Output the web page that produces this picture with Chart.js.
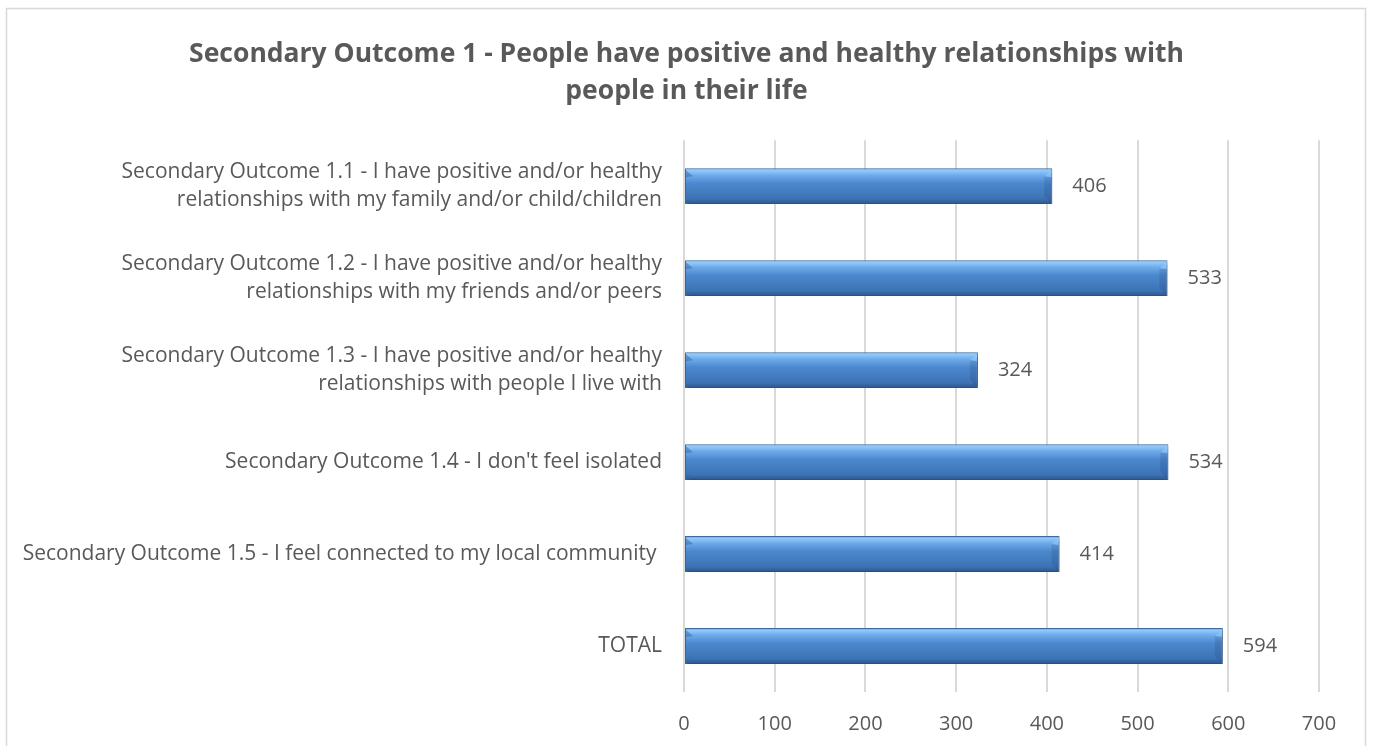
<!DOCTYPE html>
<html>
<head>
<meta charset="utf-8">
<script src="https://cdn.jsdelivr.net/npm/chart.js@4.4.1/dist/chart.umd.min.js"></script>
<style>
  html, body { margin: 0; padding: 0; background: #fff; }
  #wrap { width: 1373px; height: 746px; }
</style>
</head>
<body>
<div id="wrap"><canvas id="outcomeChart" width="1373" height="746"></canvas></div>
<script>
// Datos
const titleLines = [
    'Secondary Outcome 1 - People have positive and healthy relationships with',
    'people in their life'
];

const categories = [
    ['Secondary Outcome 1.1 - I have positive and/or healthy', 'relationships with my family and/or child/children'],
    ['Secondary Outcome 1.2 - I have positive and/or healthy', 'relationships with my friends and/or peers'],
    ['Secondary Outcome 1.3 - I have positive and/or healthy', 'relationships with people I live with'],
    'Secondary Outcome 1.4 - I don\'t feel isolated',
    'Secondary Outcome 1.5 - I feel connected to my local community ',
    'TOTAL'
];

const respuestas = [406, 533, 324, 534, 414, 594];

const xTicks = [0, 100, 200, 300, 400, 500, 600, 700];

const textColor = '#595959';
const gridColor = '#d9d9d9';
const fontFamily = '"Open Sans", Lato, sans-serif';
const labelSize = 21;
const numberSize = 20;
const barPct = 0.39;

// Degradado vertical de cada barra
function barGradient(context) {
    const chart = context.chart;
    const yScale = chart.scales.y;
    if (!yScale || context.dataIndex === undefined) return '#4a86cc';
    const yc = yScale.getPixelForValue(context.dataIndex);
    const half = (yScale.height / categories.length) * barPct / 2;
    if (!isFinite(yc) || !isFinite(half) || half <= 0) return '#4a86cc';
    const g = chart.ctx.createLinearGradient(0, yc - half, 0, yc + half);
    g.addColorStop(0, '#5a93d4');
    g.addColorStop(0.06, '#92cbfa');
    g.addColorStop(0.2, '#6eaaea');
    g.addColorStop(0.42, '#4b88cd');
    g.addColorStop(0.85, '#3d73b5');
    g.addColorStop(1, '#2b5489');
    return g;
}

// Marco exterior y título centrado en todo el ancho
const framePlugin = {
    id: 'frame',
    afterLayout(chart) {
        const tb = chart.titleBlock;
        if (tb) {
            tb.left = 0;
            tb.right = chart.width;
            tb.width = chart.width;
        }
    },
    beforeDraw(chart) {
        const ctx = chart.ctx;
        ctx.save();
        ctx.strokeStyle = gridColor;
        ctx.lineWidth = 1.5;
        ctx.strokeRect(6.5, 8.5, 1359, 800);
        ctx.restore();
    }
};

// Sombra, biselado y etiquetas de valor
const bevelPlugin = {
    id: 'bevel',
    beforeDatasetsDraw(chart) {
        const ctx = chart.ctx;
        ctx.save();
        ctx.shadowColor = 'rgba(0,0,0,0.35)';
        ctx.shadowBlur = 5;
        ctx.shadowOffsetX = 1;
        ctx.shadowOffsetY = 3;
    },
    afterDatasetsDraw(chart) {
        const ctx = chart.ctx;
        ctx.restore();
        const meta = chart.getDatasetMeta(0);
        const b = 8;
        meta.data.forEach((bar, i) => {
            const l = bar.base, r = bar.x;
            const t = bar.y - bar.height / 2, bt = bar.y + bar.height / 2;
            ctx.save();
            // extremo izquierdo: triángulo oscuro arriba
            ctx.beginPath();
            ctx.moveTo(l + 1, t + 2); ctx.lineTo(l + b, t + b); ctx.lineTo(l + 1, t + b + 1);
            ctx.closePath();
            ctx.fillStyle = 'rgba(30,70,130,0.35)';
            ctx.fill();
            // extremo derecho: triángulo claro arriba, borde oscuro
            ctx.beginPath();
            ctx.moveTo(r - 1, t + 2); ctx.lineTo(r - b, t + b); ctx.lineTo(r - 1, t + b + 1);
            ctx.closePath();
            ctx.fillStyle = 'rgba(150,205,250,0.5)';
            ctx.fill();
            ctx.beginPath();
            ctx.moveTo(r - 1, t + b + 1); ctx.lineTo(r - b, t + b); ctx.lineTo(r - b, bt - b); ctx.lineTo(r - 1, bt - 1);
            ctx.closePath();
            ctx.fillStyle = 'rgba(20,50,100,0.15)';
            ctx.fill();
            ctx.restore();

            // valor
            ctx.save();
            ctx.font = numberSize + 'px ' + fontFamily;
            ctx.fillStyle = textColor;
            ctx.textAlign = 'left';
            ctx.textBaseline = 'middle';
            ctx.fillText(String(respuestas[i]), r + 20, bar.y);
            ctx.restore();
        });
    }
};

const outcomeChart = new Chart(document.getElementById('outcomeChart'), {
    type: 'bar',
    data: {
        labels: categories,
        datasets: [{
            label: 'Respuestas',
            data: respuestas,
            backgroundColor: barGradient,
            borderColor: '#3f6ea9',
            borderWidth: 1,
            borderSkipped: false,
            barPercentage: barPct,
            categoryPercentage: 1
        }]
    },
    options: {
        indexAxis: 'y',
        responsive: false,
        animation: false,
        layout: {
            padding: { left: 0, right: 54, top: 0, bottom: 12 }
        },
        plugins: {
            legend: { display: false },
            tooltip: { enabled: false },
            title: {
                display: true,
                text: titleLines,
                color: textColor,
                font: { family: fontFamily, size: 26.5, weight: 'bold', lineHeight: 1.4 },
                padding: { top: 36, bottom: 30 }
            }
        },
        scales: {
            x: {
                min: 0,
                max: 700,
                afterBuildTicks(scale) {
                    scale.ticks = xTicks.map(v => ({ value: v }));
                },
                afterFit(scale) {
                    scale.height = 42;
                },
                grid: { color: gridColor, lineWidth: 2, drawTicks: false },
                border: { display: false },
                ticks: {
                    color: textColor,
                    padding: 20,
                    maxRotation: 0,
                    font: { family: fontFamily, size: numberSize }
                }
            },
            y: {
                afterFit(scale) {
                    scale.width = 684;
                },
                grid: { display: false, drawTicks: false },
                border: { display: false },
                ticks: {
                    color: textColor,
                    padding: 22,
                    font: { family: fontFamily, size: labelSize, lineHeight: 1.333 }
                }
            }
        }
    },
    plugins: [framePlugin, bevelPlugin]
});
</script>
</body>
</html>
